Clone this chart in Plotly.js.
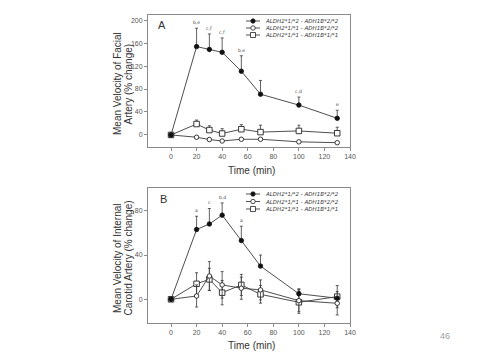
<!DOCTYPE html>
<html><head><meta charset="utf-8">
<script src="https://cdn.plot.ly/plotly-3.0.1.min.js"></script>
<style>html,body{margin:0;padding:0;background:#fff}#chart{width:480px;height:361px}</style>
</head><body><div id="chart"></div>
<script>
// ---- data ----
const timeMin = [0, 20, 30, 40, 55, 70, 100, 130];
const seriesNames = ["ALDH2*1/*2 - ADH1B*2/*2", "ALDH2*1/*1 - ADH1B*2/*2", "ALDH2*1/*1 - ADH1B*1/*1"];

// Panel A: facial artery
const A_g1 = [0, 154, 149, 144, 111, 71, 52, 29];
const A_g1_err = [0, 32, 27, 25, 27, 24, 14, 14];
const A_g2 = [0, -4, -8, -10.5, -7.5, -7.5, -12, -13.5];
const A_g2_err = [0, 2, 2, 2, 2, 2, 2, 2];
const A_g3 = [0, 19, 8.5, 2.5, 10, 5, 7, 3];
const A_g3_err = [0, 7, 7.5, 8.5, 8, 12, 10, 10.5];
const A_letters = ["", "b,e", "c,f", "c,f", "b,e", "", "c,d", "e"];

// Panel B: internal carotid artery
const B_g1 = [0, 63, 68, 76, 53, 30, 5, 1];
const B_g1_err = [0, 12, 14, 11, 13, 10, 4.5, 0];
const B_g2 = [0, 3, 21, 13, 10, 8.5, -1.2, -3.6];
const B_g2_err = [0, 10, 13, 12, 10, 9, 10, 10.6];
const B_g3 = [0, 14, 18, 6, 13, 4.5, -2.7, 2.4];
const B_g3_err = [0, 10, 10, 11, 9.5, 8, 10, 10];
const B_letters = ["", "a", "c", "b,d", "a", "", "", ""];

const xTicks = [0, 20, 40, 60, 80, 100, 120, 140];
const yTicksA = [0, 40, 80, 120, 160, 200];
const yTicksB = [0, 40, 80];

// ---- styles ----
const LC = "#3a3a3a";
const markerStyles = [
  {symbol: "circle", size: 4.5, color: "#111", line: {color: "#111", width: 0.8}},
  {symbol: "circle", size: 4.5, color: "#fff", line: {color: "#222", width: 0.9}},
  {symbol: "square", size: 5.5, color: "#fff", line: {color: "#222", width: 0.9}}
];

function tr(xa, ya, y, err, sym, k) {
  return {
    x: timeMin, y: y, xaxis: xa, yaxis: ya, type: "scatter", mode: "lines+markers",
    name: seriesNames[k], showlegend: false,
    line: {color: LC, width: 0.9},
    marker: markerStyles[k],
    error_y: sym ? {type: "data", array: err, symmetric: true, color: LC, thickness: 0.8, width: 1.5}
                 : {type: "data", array: err, arrayminus: err.map(() => 0), symmetric: false, color: LC, thickness: 0.8, width: 1.5}
  };
}

const data = [
  tr("x", "y", A_g3, A_g3_err, false, 2),
  tr("x", "y", A_g2, A_g2_err, false, 1),
  tr("x", "y", A_g1, A_g1_err, false, 0),
  tr("x2", "y2", B_g3, B_g3_err, true, 2),
  tr("x2", "y2", B_g2, B_g2_err, true, 1),
  tr("x2", "y2", B_g1, B_g1_err, false, 0)
];

const W = 480, H = 361;
const px = v => v / W;
const py = v => 1 - v / H;

const axisBase = {
  showline: true, mirror: true, linecolor: "#8a8a8a", linewidth: 1,
  ticks: "outside", ticklen: 3, tickwidth: 1, tickcolor: "#8a8a8a",
  showgrid: false, zeroline: false,
  tickfont: {family: "Liberation Sans, Arial, sans-serif", size: 7, color: "#555"}
};

const annotations = [];
const tfont = {family: "Liberation Sans, Arial, sans-serif", color: "#333"};

function letters(xa, ya, y, err, labs) {
  labs.forEach((t, i) => {
    if (!t) return;
    annotations.push({x: timeMin[i], y: y[i] + err[i], xref: xa, yref: ya, text: t, showarrow: false,
      yanchor: "bottom", yshift: 1, font: {family: "DejaVu Sans, sans-serif", size: 4.5, color: "#444"}});
  });
}
letters("x", "y", A_g1, A_g1_err, A_letters);
letters("x2", "y2", B_g1, B_g1_err, B_letters);

// Axis titles
function paperText(x, y, text, size, angle, extra) {
  annotations.push(Object.assign({x: px(x), y: py(y), xref: "paper", yref: "paper", text: text, showarrow: false,
    textangle: angle || 0, xanchor: "center", yanchor: "middle", font: Object.assign({}, tfont, {size: size})}, extra || {}));
}
paperText(117, 84, "Mean Velocity of Facial", 10, -90);
paperText(127.5, 84, "Artery (% change)", 10, -90);
paperText(117, 258, "Mean Velocity of Internal", 10, -90);
paperText(127.5, 258, "Carotid Artery (% change)", 10, -90);
paperText(251, 171, "Time (min)", 10, 0);
paperText(251, 345, "Time (min)", 10, 0);
paperText(162, 25, "A", 11, 0);
paperText(163.5, 199, "B", 11, 0);
paperText(445, 336, "46", 9, 0, {font: {family: "Liberation Sans, Arial, sans-serif", size: 9, color: "#a0a0a0"}});

// Legends (drawn manually, compact)
const shapes = [];
function legend(rows) {
  rows.forEach((ry, k) => {
    shapes.push({type: "line", xref: "paper", yref: "paper", x0: px(246), x1: px(260), y0: py(ry), y1: py(ry),
      line: {color: LC, width: 0.9}});
    const m = markerStyles[k];
    const s = k === 2 ? 2.5 : 2.2;
    shapes.push({type: m.symbol === "square" ? "rect" : "circle", xref: "paper", yref: "paper",
      xsizemode: "pixel", ysizemode: "pixel", xanchor: px(253), yanchor: py(ry),
      x0: -s, x1: s, y0: -s, y1: s, fillcolor: m.color, line: {color: "#222", width: 0.8}});
    annotations.push({x: px(264), y: py(ry), xref: "paper", yref: "paper", text: "<i>" + seriesNames[k] + "</i>",
      showarrow: false, xanchor: "left", yanchor: "middle", borderpad: 0,
      font: {family: "DejaVu Sans, sans-serif", size: 5.5, color: "#333"}});
  });
}
legend([21, 28, 35]);
legend([194, 201.5, 209]);

const xd = [px(148), px(350)];
const layout = {
  width: W, height: H, margin: {l: 0, r: 0, t: 0, b: 0},
  paper_bgcolor: "#fff", plot_bgcolor: "#fff", showlegend: false,
  xaxis: Object.assign({}, axisBase, {domain: xd, range: [-18, 140], tickvals: xTicks, anchor: "y"}),
  yaxis: Object.assign({}, axisBase, {domain: [py(147), py(15)], range: [-21, 209], tickvals: yTicksA, anchor: "x"}),
  xaxis2: Object.assign({}, axisBase, {domain: xd, range: [-18, 140], tickvals: xTicks, anchor: "y2"}),
  yaxis2: Object.assign({}, axisBase, {domain: [py(323), py(188)], range: [-21.4, 100.5], tickvals: yTicksB, anchor: "x2"}),
  annotations: annotations, shapes: shapes
};

Plotly.newPlot("chart", data, layout, {staticPlot: true, displayModeBar: false});
</script></body></html>
